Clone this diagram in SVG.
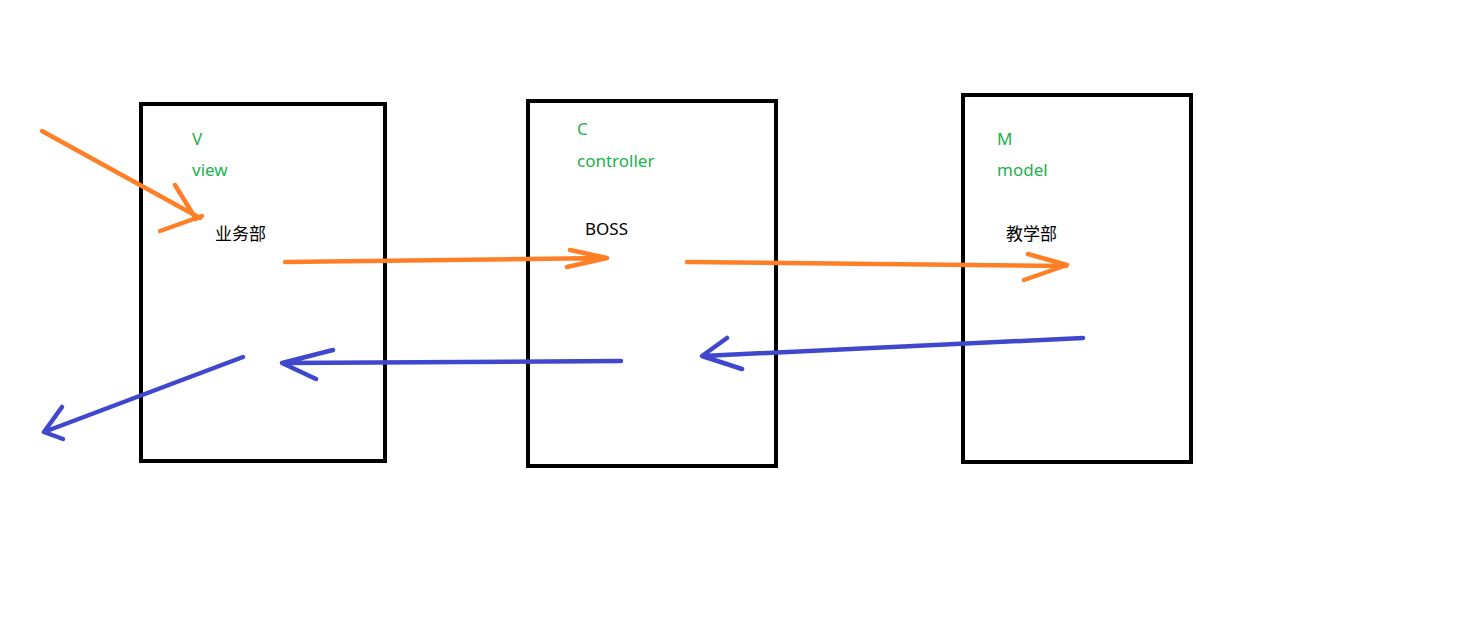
<svg xmlns="http://www.w3.org/2000/svg" width="1478" height="620" viewBox="0 0 1478 620">
<style>
.box{fill:none;stroke:#000;stroke-width:4}
.o{fill:none;stroke:#FF7F27;stroke-width:4.5;stroke-linecap:round;stroke-linejoin:round}
.b{fill:none;stroke:#3F48CC;stroke-width:4.5;stroke-linecap:round;stroke-linejoin:round}
.g{fill:#22B14C;font-family:"Noto Sans","Noto Sans CJK SC",sans-serif;font-size:17px}
.k{fill:#000;font-family:"Noto Sans","Noto Sans CJK SC",sans-serif;font-size:17px}
</style>
<rect width="1478" height="620" fill="#fff"/>
<g id="view">
<rect class="box" x="141" y="104" width="244" height="357"/>
<text class="g" x="192" y="145">V</text>
<text class="g" x="192" y="176">view</text>
<text class="k" x="215" y="240">业务部</text>
</g>
<g id="controller">
<rect class="box" x="528" y="101" width="248" height="365"/>
<text class="g" x="577" y="135">C</text>
<text class="g" x="577" y="167">controller</text>
<text class="k" x="585" y="235">BOSS</text>
</g>
<g id="model">
<rect class="box" x="963" y="95" width="228" height="367"/>
<text class="g" x="997" y="145">M</text>
<text class="g" x="997" y="176">model</text>
<text class="k" x="1006" y="240">教学部</text>
</g>
<g id="connectors">
<path class="o" d="M42,131 L200,218 M175,185 L196,219 M160,231 L202,216"/>
<path class="o" d="M285,262 L606,258 M570,250 L607,258 L567,267"/>
<path class="o" d="M687,262 L1066,266 M1028,254 L1067,265 L1024,280"/>
<path class="b" d="M1083,338 L703,356 M727,338 L702,356 L742,369"/>
<path class="b" d="M621,361 L283,363 M333,350 L282,363 L316,379"/>
<path class="b" d="M243,357 L44,432 M62,407 L44,432 L63,439"/>
</g>
</svg>
